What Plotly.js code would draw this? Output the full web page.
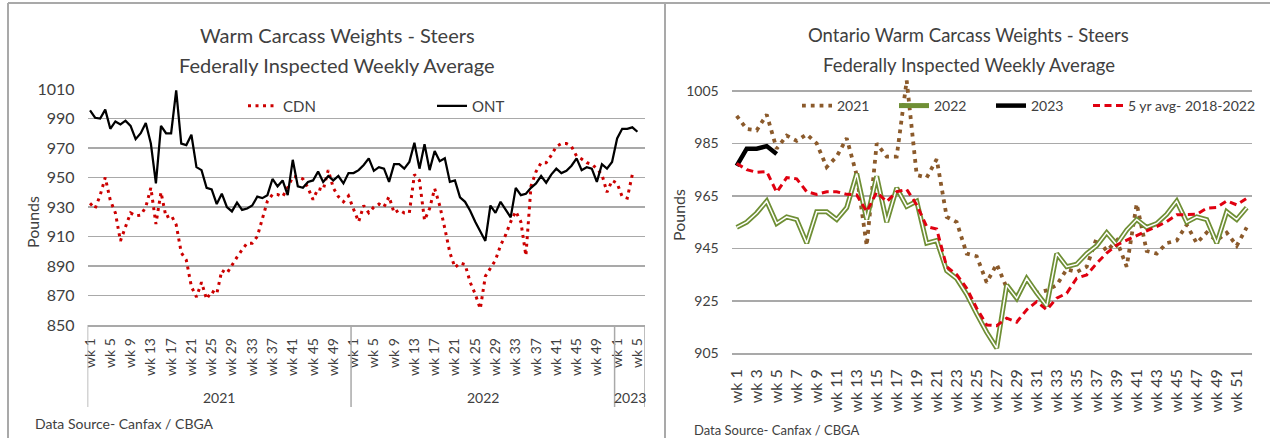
<!DOCTYPE html>
<html><head><meta charset="utf-8">
<script src="https://cdn.plot.ly/plotly-3.0.1.min.js"></script>
<style>html,body{margin:0;padding:0;background:#fff}#chart{width:1270px;height:438px}</style>
</head><body><div id="chart"></div>
<script>
// ---------- data ----------
const years = ['2021', '2022', '2023'];
const yearWeeks = [52, 52, 6];

const ont2021 = [995.5, 990.5, 990, 996, 983, 988, 986, 988.5, 985, 976, 980, 987, 973, 946, 985, 980, 980, 1009, 973, 972, 979, 957, 955, 943, 942, 932, 939, 930, 927, 933, 928, 929, 931, 937, 936, 938, 949, 944, 948, 938, 962, 944, 943, 947, 948, 954, 947, 951, 948, 951, 946, 953];
const ont2022 = [953, 955, 958.5, 963, 954.5, 957, 956, 947, 959, 959, 956, 960.5, 973.5, 956, 972.5, 955, 968, 961, 963, 947, 948, 936.5, 933.5, 927.5, 920, 913, 907, 931, 926, 933.5, 928, 923, 943, 938, 939, 943, 946, 951, 946.5, 952, 956, 953, 954.5, 958, 963, 955, 957, 956, 947, 959, 956, 960.5];
const ont2023 = [976.5, 983, 983, 984, 981];

const cdn2021 = [932.5, 929, 938, 950, 934.5, 926, 907, 917, 926, 924, 924.5, 930, 943, 918.5, 940, 923, 924.5, 918, 899, 894, 876, 869, 879, 867.5, 873, 871, 887, 885, 891, 896, 901, 905.5, 905.5, 910, 922, 934, 938.5, 938.5, 937, 943, 950.5, 950.5, 949, 943, 935, 942.5, 941.5, 955, 943, 937, 933.5, 937.5];
const cdn2022 = [928.5, 920, 931, 926, 930, 932, 930, 937, 926, 928, 926, 926, 952, 948, 921, 929, 942.5, 931, 915.5, 899, 889, 892, 891, 879, 871, 861, 883, 889, 894, 904, 911, 920, 927, 920, 897, 944, 954, 960, 960, 965, 971, 973, 973, 971, 964.5, 962.5, 960, 959, 956, 952, 940, 948];
const cdn2023 = [946, 937, 936, 952];

const avg5yr = [977.4, 975, 974, 974.3, 966.4, 972, 971.5, 966.6, 965.6, 966.6, 966.6, 965.6, 965.4, 959, 966.4, 962.8, 966.6, 967.5, 961.6, 953.3, 952.4, 938, 935, 929.8, 922.2, 915.8, 915.5, 918.4, 916.9, 921.6, 924.7, 921.6, 926, 927.9, 933.6, 934.9, 939.3, 943.2, 946.3, 948.2, 950.1, 951.7, 953.3, 955.2, 957.8, 958, 958, 960.3, 960.6, 963.1, 961.6, 964.1];

const leftYTicks = [850, 870, 890, 910, 930, 950, 970, 990, 1010];
const rightYTicks = [905, 925, 945, 965, 985, 1005];

// ---------- derived ----------
const W = 1270, H = 438;
const px = x => x / W, py = y => 1 - y / H;

const ontAll = ont2021.concat(ont2022, ont2023);
const cdnAll = cdn2021.concat(cdn2022, cdn2023);
const ontX = ontAll.map((_, i) => i);
const cdnX = cdnAll.map((_, i) => i);

const offsets = [];
let acc = 0;
yearWeeks.forEach(n => { offsets.push(acc); acc += n; });
const totalCats = acc;

const leftTickVals = [], leftTickText = [];
yearWeeks.forEach((n, g) => {
  for (let w = 1; w <= n; w += 4) { leftTickVals.push(offsets[g] + w - 1); leftTickText.push('wk ' + w); }
});
const weeks = avg5yr.map((_, i) => i + 1);
const rightTickVals = weeks.filter(w => w % 2 === 1);
const rightTickText = rightTickVals.map(w => 'wk ' + w);

const gridC = '#A9A9A9';
const textC = '#404040';

const traces = [
  {x: cdnX, y: cdnAll, type: 'scatter', mode: 'lines', name: 'CDN', xaxis: 'x', yaxis: 'y',
   line: {color: '#CC0000', width: 3, dash: '3px,4.5px'}, legend: 'legend'},
  {x: ontX, y: ontAll, type: 'scatter', mode: 'lines', name: 'ONT', xaxis: 'x', yaxis: 'y',
   line: {color: '#000000', width: 2.25}, legend: 'legend'},

  {x: weeks, y: ont2021, type: 'scatter', mode: 'lines', name: '2021', xaxis: 'x2', yaxis: 'y2',
   line: {color: '#8B5A2B', width: 3.8, dash: '3.8px,5px'}, legend: 'legend2'},
  {x: weeks, y: ont2022, type: 'scatter', mode: 'lines', name: '2022', xaxis: 'x2', yaxis: 'y2',
   line: {color: '#6F8F35', width: 5}, legend: 'legend2'},
  {x: weeks, y: ont2022, type: 'scatter', mode: 'lines', name: '2022 inner', xaxis: 'x2', yaxis: 'y2',
   line: {color: '#FFFFFF', width: 1.5}, showlegend: false, legend: 'legend2'},
  {x: weeks.slice(0, ont2023.length), y: ont2023, type: 'scatter', mode: 'lines', name: '2023', xaxis: 'x2', yaxis: 'y2',
   line: {color: '#000000', width: 4.5}, legend: 'legend2'},
  {x: weeks, y: avg5yr, type: 'scatter', mode: 'lines', name: '5 yr avg- 2018-2022', xaxis: 'x2', yaxis: 'y2',
   line: {color: '#E00010', width: 3, dash: '7px,4.5px'}, legend: 'legend2', legendwidth: 135}
];

const ann = (text, x, y, size, extra) => Object.assign({text, x: px(x), y: py(y), xref: 'paper', yref: 'paper',
  showarrow: false, xanchor: 'center', yanchor: 'middle', font: {size, color: textC}}, extra || {});

const annotations = [
  ann('Warm Carcass Weights - Steers', 337, 35, 20),
  ann('Federally Inspected Weekly Average', 337, 65, 20),
  ann('Ontario Warm Carcass Weights - Steers', 969, 35, 18.5),
  ann('Federally Inspected Weekly Average', 969, 65, 18.5),
  ann('Pounds', 32, 222, 16, {textangle: -90}),
  ann('Pounds', 678, 215, 16, {textangle: -90}),
  ann('Data Source- Canfax / CBGA', 33, 423, 14, {xanchor: 'left'}),
  ann('Data Source- Canfax / CBGA', 692, 430, 13, {xanchor: 'left'})
];
years.forEach((yr, g) => {
  annotations.push({text: yr, x: offsets[g] + (yearWeeks[g] - 1) / 2, xref: 'x', y: py(397), yref: 'paper',
    showarrow: false, xanchor: 'center', yanchor: 'middle', font: {size: 14, color: textC}});
});

const shapes = [];
const bounds = offsets.concat([totalCats]);
bounds.forEach(b => {
  shapes.push({type: 'line', xref: 'x', yref: 'paper', x0: b - 0.5, x1: b - 0.5, y0: py(407), y1: py(325),
    line: {color: gridC, width: 1.5}});
});
shapes.push({type: 'line', xref: 'paper', yref: 'paper', x0: px(8), x1: 1, y0: py(3), y1: py(3), line: {color: gridC, width: 2}});
shapes.push({type: 'line', xref: 'paper', yref: 'paper', x0: px(8), x1: px(8), y0: py(3), y1: 0, line: {color: gridC, width: 2}});
shapes.push({type: 'line', xref: 'paper', yref: 'paper', x0: px(665), x1: px(665), y0: py(3), y1: 0, line: {color: gridC, width: 2}});

const layout = {
  width: W, height: H, margin: {l: 0, r: 0, t: 0, b: 0},
  paper_bgcolor: '#FFFFFF', plot_bgcolor: 'rgba(0,0,0,0)',
  font: {family: 'Lato, "Open Sans", sans-serif', color: textC},
  showlegend: true,
  xaxis: {domain: [px(87.5), px(645)], range: [-0.5, totalCats - 0.5], tickmode: 'array',
    tickvals: leftTickVals, ticktext: leftTickText, tickangle: -90, tickfont: {size: 14, color: textC},
    showgrid: false, zeroline: false, showline: true, linecolor: gridC, linewidth: 1.5, ticks: '',
    ticklabelstandoff: 6, anchor: 'y', fixedrange: true},
  yaxis: {domain: [py(325), py(89)], range: [850, 1010], tickmode: 'array', tickvals: leftYTicks,
    showgrid: true, gridcolor: gridC, gridwidth: 1.5, zeroline: false, showline: false, ticks: '',
    tickfont: {size: 16, color: textC}, ticklabelstandoff: 12, anchor: 'x', fixedrange: true},
  xaxis2: {domain: [px(731.7), px(1251.7)], range: [0.5, 52.5], tickmode: 'array',
    tickvals: rightTickVals, ticktext: rightTickText, tickangle: -90, tickfont: {size: 16, color: textC},
    showgrid: false, zeroline: false, showline: true, linecolor: gridC, linewidth: 1.5, ticks: '',
    ticklabelstandoff: 8, anchor: 'y2', fixedrange: true},
  yaxis2: {domain: [py(353.3), py(77.9)], range: [905, 1010], tickmode: 'array', tickvals: rightYTicks,
    showgrid: true, gridcolor: gridC, gridwidth: 1.5, zeroline: false, showline: false, ticks: '',
    tickfont: {size: 14, color: textC}, ticklabelstandoff: 12, anchor: 'x2', fixedrange: true},
  legend: {orientation: 'h', x: px(243), y: py(106), xanchor: 'left', yanchor: 'middle',
    entrywidth: 144, font: {size: 15, color: textC}, bgcolor: 'rgba(0,0,0,0)', borderwidth: 0},
  legend2: {orientation: 'h', x: px(797), y: py(106), xanchor: 'left', yanchor: 'middle',
    entrywidth: 52, font: {size: 14, color: textC}, bgcolor: 'rgba(0,0,0,0)', borderwidth: 0},
  annotations: annotations,
  shapes: shapes
};

Plotly.newPlot('chart', traces, layout, {staticPlot: true, displayModeBar: false});
</script>
</body></html>
